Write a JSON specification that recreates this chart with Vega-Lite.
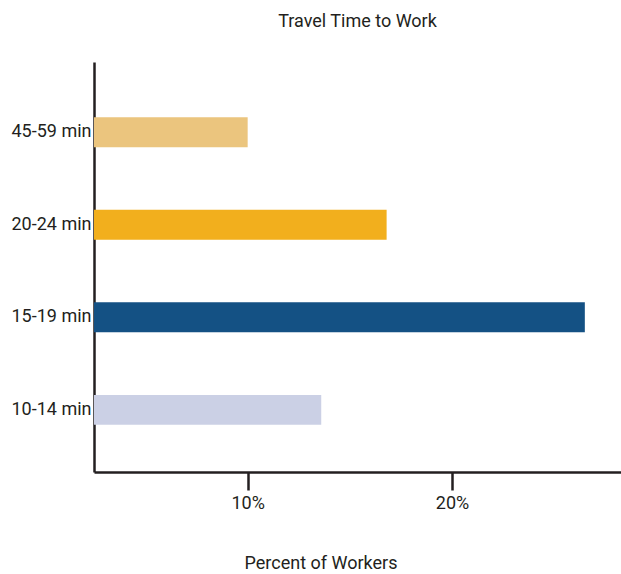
{
  "$schema": "https://vega.github.io/schema/vega-lite/v6.json",
  "autosize": "none",
  "width": 527,
  "height": 410,
  "padding": {"left": 94, "top": 62, "right": 0, "bottom": 102},
  "background": "white",
  "title": {
    "text": "Travel Time to Work",
    "anchor": "middle",
    "baseline": "alphabetic",
    "offset": 17,
    "font": "Roboto",
    "fontSize": 18,
    "fontWeight": "normal",
    "color": "#231F20"
  },
  "data": {
    "values": [
      {"time": "45-59 min", "percent": 10.0},
      {"time": "20-24 min", "percent": 16.8},
      {"time": "15-19 min", "percent": 26.5},
      {"time": "10-14 min", "percent": 13.6}
    ]
  },
  "mark": {"type": "bar", "clip": true},
  "encoding": {
    "y": {
      "field": "time",
      "type": "nominal",
      "sort": ["45-59 min", "20-24 min", "15-19 min", "10-14 min"],
      "scale": {"paddingInner": 0.676, "paddingOuter": 0.554, "align": 0.54},
      "axis": {
        "title": null,
        "ticks": false,
        "labelPadding": 3,
        "labelFont": "Roboto",
        "labelFontSize": 18,
        "labelColor": "#231F20",
        "domainColor": "#231F20",
        "domainWidth": 2.5
      }
    },
    "x": {
      "field": "percent",
      "type": "quantitative",
      "scale": {"domain": [2.48, 28.27], "nice": false, "zero": false},
      "axis": {
        "values": [10, 20],
        "labelExpr": "datum.value + '%'",
        "grid": false,
        "tickSize": 18,
        "tickWidth": 2.5,
        "tickColor": "#231F20",
        "domainColor": "#231F20",
        "domainWidth": 2.5,
        "labelPadding": 4,
        "labelFont": "Roboto",
        "labelFontSize": 18,
        "labelColor": "#231F20",
        "title": "Percent of Workers",
        "titleFont": "Roboto",
        "titleFontSize": 18,
        "titleFontWeight": "normal",
        "titleColor": "#231F20",
        "titleX": 226.5,
        "titleY": 96,
        "titleAlign": "center",
        "titleBaseline": "alphabetic"
      }
    },
    "color": {
      "field": "time",
      "type": "nominal",
      "scale": {
        "domain": ["45-59 min", "20-24 min", "15-19 min", "10-14 min"],
        "range": ["#EBC57E", "#F2AF1D", "#145184", "#CBD0E5"]
      },
      "legend": null
    }
  },
  "config": {"view": {"stroke": null}}
}
